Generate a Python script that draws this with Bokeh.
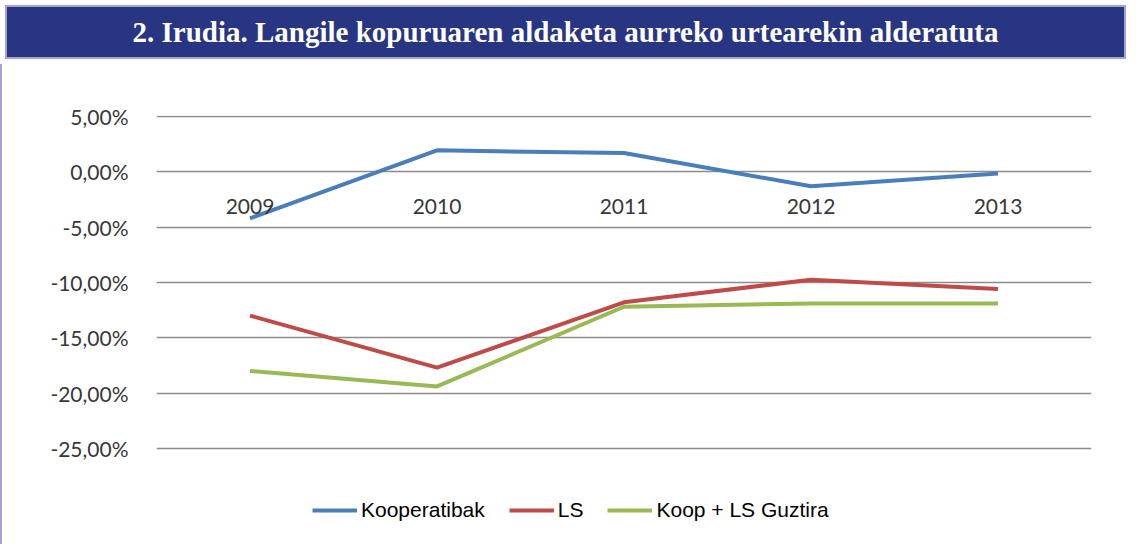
from bokeh.plotting import figure
from bokeh.models import (FactorRange, Range1d, CustomJSTickFormatter, FixedTicker,
                          Legend, LegendItem, ColumnDataSource, Div)
from bokeh.layouts import column
from bokeh.embed import file_html
from bokeh.resources import INLINE

# ---- data (percent change vs previous year) ----
years = ["2009", "2010", "2011", "2012", "2013"]
kooperatibak = [-4.2, 1.95, 1.7, -1.3, -0.15]
ls = [-13.0, -17.7, -11.8, -9.75, -10.6]
guztira = [-18.0, -19.4, -12.2, -11.9, -11.9]
y_ticks = [-25, -20, -15, -10, -5, 0, 5]
series_names = ["Kooperatibak", "LS", "Koop + LS Guztira"]
title_text = "2. Irudia. Langile kopuruaren aldaketa aurreko urtearekin alderatuta"

colors = ["#4a7ebb", "#be4b48", "#98b954"]

banner = Div(
    text=title_text,
    width=1121, height=54,
    styles={
        "background-color": "#283583",
        "color": "white",
        "font-family": "'Liberation Serif', 'DejaVu Serif', serif",
        "font-weight": "bold",
        "font-size": "29px",
        "text-align": "center",
        "line-height": "50px",
        "border": "2px solid #a3a3d6",
        "box-sizing": "border-box",
        "width": "1121px",
        "height": "54px",
    },
)

p = figure(
    width=1121, height=480,
    x_range=FactorRange(*years),
    y_range=Range1d(-33.7, 5.1),
    output_backend="svg",
    toolbar_location=None,
    min_border_left=154, min_border_right=32,
    min_border_top=51, min_border_bottom=0,
)
p.outline_line_color = None
p.background_fill_color = "white"
p.border_fill_color = "white"
p.styles = {"border-left": "2px solid #a3a3d6", "box-sizing": "border-box"}

src = ColumnDataSource(dict(x=years, k=kooperatibak, l=ls, g=guztira))
r1 = p.line("x", "k", source=src, line_color=colors[0], line_width=4)
r2 = p.line("x", "l", source=src, line_color=colors[1], line_width=4)
r3 = p.line("x", "g", source=src, line_color=colors[2], line_width=4)

# y axis
p.yaxis.ticker = FixedTicker(ticks=y_ticks)
p.yaxis.formatter = CustomJSTickFormatter(
    code="return tick.toFixed(2).replace('.', ',') + '%';")
p.yaxis.axis_line_color = None
p.yaxis.major_tick_line_color = None
p.yaxis.minor_tick_line_color = None
p.yaxis.major_label_standoff = 22
p.yaxis.major_label_text_font = "Lato"
p.yaxis.major_label_text_font_size = "21px"
p.yaxis.major_label_text_color = "#383838"

# x axis at y = 0
p.xaxis.fixed_location = 0
p.xaxis.axis_line_color = None
p.xaxis.major_tick_line_color = None
p.xaxis.minor_tick_line_color = None
p.xaxis.major_label_standoff = 21
p.xaxis.major_label_text_font = "Lato"
p.xaxis.major_label_text_font_size = "21px"
p.xaxis.major_label_text_color = "#383838"

p.xgrid.grid_line_color = None
p.ygrid.ticker = FixedTicker(ticks=y_ticks)
p.ygrid.grid_line_color = "#8c8c8c"
p.ygrid.grid_line_width = 1.5

legend = Legend(
    items=[LegendItem(label=series_names[0], renderers=[r1]),
           LegendItem(label=series_names[1], renderers=[r2]),
           LegendItem(label=series_names[2], renderers=[r3])],
    orientation="horizontal",
    location=(156, 22),
    label_text_font="Liberation Sans",
    label_text_font_size="21px",
    label_text_color="black",
    glyph_width=45,
    glyph_height=22,
    label_standoff=4,
    spacing=24,
    padding=0,
    margin=0,
    border_line_color=None,
    background_fill_alpha=0,
)
p.add_layout(legend, "center")

layout = column(banner, p, spacing=0)
open("out.html", "w").write(file_html(layout, INLINE))
